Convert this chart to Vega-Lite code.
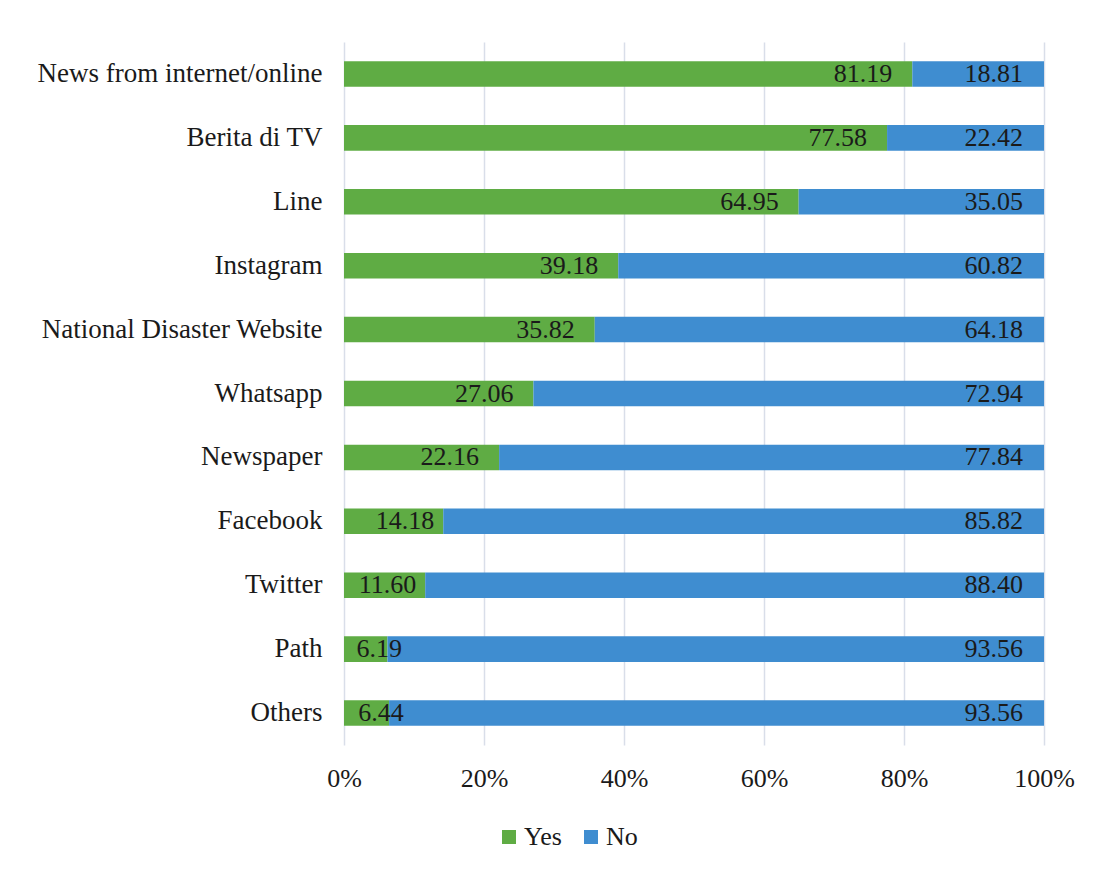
{
  "$schema": "https://vega.github.io/schema/vega-lite/v6.json",
  "width": 700,
  "height": 703,
  "autosize": "none",
  "padding": {"left": 344, "top": 42, "right": 68, "bottom": 128},
  "background": "white",
  "config": {"view": {"stroke": null}, "font": "Liberation Serif"},
  "data": {
    "values": [
      {"category": "News from internet/online", "response": "Yes", "value": 81.19},
      {"category": "News from internet/online", "response": "No", "value": 18.81},
      {"category": "Berita di TV", "response": "Yes", "value": 77.58},
      {"category": "Berita di TV", "response": "No", "value": 22.42},
      {"category": "Line", "response": "Yes", "value": 64.95},
      {"category": "Line", "response": "No", "value": 35.05},
      {"category": "Instagram", "response": "Yes", "value": 39.18},
      {"category": "Instagram", "response": "No", "value": 60.82},
      {"category": "National Disaster Website", "response": "Yes", "value": 35.82},
      {"category": "National Disaster Website", "response": "No", "value": 64.18},
      {"category": "Whatsapp", "response": "Yes", "value": 27.06},
      {"category": "Whatsapp", "response": "No", "value": 72.94},
      {"category": "Newspaper", "response": "Yes", "value": 22.16},
      {"category": "Newspaper", "response": "No", "value": 77.84},
      {"category": "Facebook", "response": "Yes", "value": 14.18},
      {"category": "Facebook", "response": "No", "value": 85.82},
      {"category": "Twitter", "response": "Yes", "value": 11.60},
      {"category": "Twitter", "response": "No", "value": 88.40},
      {"category": "Path", "response": "Yes", "value": 6.19},
      {"category": "Path", "response": "No", "value": 93.56},
      {"category": "Others", "response": "Yes", "value": 6.44},
      {"category": "Others", "response": "No", "value": 93.56}
    ]
  },
  "encoding": {
    "y": {
      "field": "category",
      "type": "nominal",
      "sort": ["News from internet/online", "Berita di TV", "Line", "Instagram", "National Disaster Website", "Whatsapp", "Newspaper", "Facebook", "Twitter", "Path", "Others"],
      "scale": {"paddingInner": 0.6, "paddingOuter": 0.3},
      "axis": {
        "title": null,
        "ticks": false,
        "domain": false,
        "labelPadding": 22,
        "labelFontSize": 27,
        "labelLimit": 400,
        "labelColor": "#1a1a1a",
        "labelFont": "Liberation Serif"
      }
    }
  },
  "resolve": {"scale": {"x": "independent"}},
  "layer": [
    {
      "mark": {"type": "bar"},
      "encoding": {
        "x": {
          "field": "value",
          "type": "quantitative",
          "stack": "normalize",
          "scale": {"domain": [0, 1]},
          "axis": {
            "title": null,
            "values": [0, 0.2, 0.4, 0.6, 0.8, 1],
            "format": ".0%",
            "grid": true,
            "gridColor": "#d9dee9",
            "gridWidth": 1.5,
            "domain": false,
            "ticks": false,
            "labelFlush": false,
            "labelPadding": 20,
            "labelFontSize": 26,
            "labelColor": "#1a1a1a",
            "labelFont": "Liberation Serif"
          }
        },
        "color": {
          "field": "response",
          "type": "nominal",
          "scale": {"domain": ["Yes", "No"], "range": ["#5fac44", "#3f8dd0"]},
          "legend": {
            "title": null,
            "orient": "none",
            "direction": "horizontal",
            "legendX": 152,
            "legendY": 782,
            "symbolType": "square",
            "symbolSize": 196,
            "symbolStrokeWidth": 0,
            "labelFontSize": 26,
            "labelColor": "#1a1a1a",
            "labelFont": "Liberation Serif",
            "labelOffset": 2,
            "columnPadding": 16
          }
        },
        "order": {"field": "response", "sort": "descending"}
      }
    },
    {
      "transform": [{"filter": "datum.response === 'Yes' && datum.value >= 20"}],
      "mark": {"type": "text", "align": "right", "baseline": "middle", "dx": -20, "fontSize": 26, "color": "#1a1a1a", "font": "Liberation Serif"},
      "encoding": {
        "x": {"field": "value", "type": "quantitative", "stack": null, "scale": {"domain": [0, 100]}, "axis": null},
        "text": {"field": "value", "type": "quantitative", "format": ".2f"}
      }
    },
    {
      "transform": [{"filter": "datum.response === 'Yes' && datum.value >= 10 && datum.value < 20"}],
      "mark": {"type": "text", "align": "right", "baseline": "middle", "dx": -9, "fontSize": 26, "color": "#1a1a1a", "font": "Liberation Serif"},
      "encoding": {
        "x": {"field": "value", "type": "quantitative", "stack": null, "scale": {"domain": [0, 100]}, "axis": null},
        "text": {"field": "value", "type": "quantitative", "format": ".2f"}
      }
    },
    {
      "transform": [{"filter": "datum.response === 'Yes' && datum.value < 10"}],
      "mark": {"type": "text", "align": "center", "baseline": "middle", "dx": -8, "fontSize": 26, "color": "#1a1a1a", "font": "Liberation Serif"},
      "encoding": {
        "x": {"field": "value", "type": "quantitative", "stack": null, "scale": {"domain": [0, 100]}, "axis": null},
        "text": {"field": "value", "type": "quantitative", "format": ".2f"}
      }
    },
    {
      "transform": [{"filter": "datum.response === 'No'"}],
      "mark": {"type": "text", "align": "right", "baseline": "middle", "dx": -21, "fontSize": 26, "color": "#1a1a1a", "font": "Liberation Serif"},
      "encoding": {
        "x": {"datum": 100, "type": "quantitative", "scale": {"domain": [0, 100]}, "axis": null},
        "text": {"field": "value", "type": "quantitative", "format": ".2f"}
      }
    }
  ]
}
